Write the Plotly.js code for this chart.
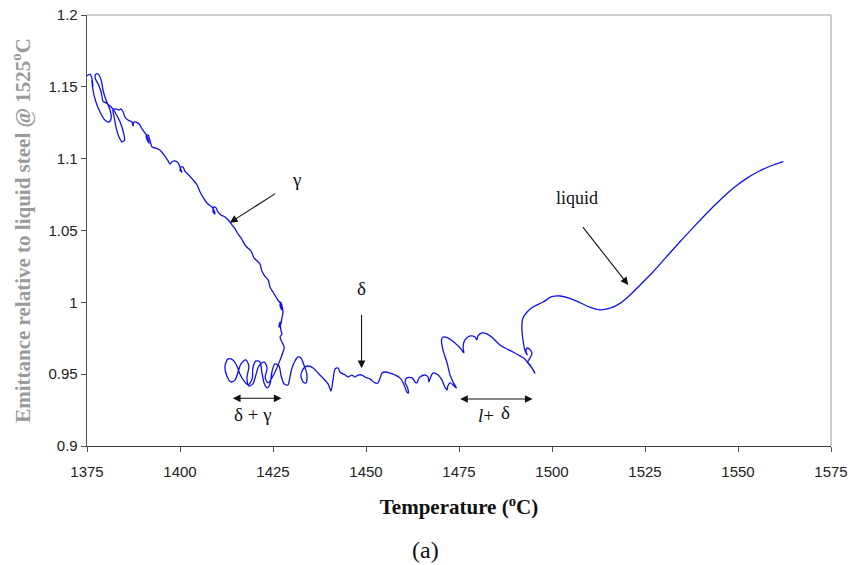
<!DOCTYPE html>
<html>
<head>
<meta charset="utf-8">
<script src="https://cdn.plot.ly/plotly-3.0.1.min.js"></script>
<style>html,body{margin:0;padding:0;background:#fff;}#chart{width:850px;height:565px;}</style>
</head>
<body>
<div id="chart"></div>
<script>
// Temperature (°C) along the measured trace (heating path, non-monotonic because of noise loops)
var temperature = [
 1374.9,1375.8,1376.3,1376.6,1376.3,1376.6,1377.4,1378.5,1379.8,1380.9,1381.5,1381.2,1380.1,1379.3,1378.8,1378.0,1377.4,1377.2,1378.0,1378.8,
 1379.3,1380.1,1381.5,1382.5,1383.9,1384.9,1385.1,1384.4,1383.6,1382.8,1382.3,1382.0,1382.8,1383.6,1384.1,1384.7,1385.2,1386.0,1387.1,1387.4,
 1387.6,1388.2,1389.0,1389.8,1390.6,1391.1,1391.7,1391.1,1390.9,1391.4,1391.9,1392.5,1393.5,1394.6,1395.7,1396.8,1397.3,1397.8,1398.7,1399.5,
 1400.3,1400.5,1400.0,1400.3,1400.8,1401.3,1402.1,1403.5,1404.6,1405.4,1406.5,1407.5,1408.6,1409.1,1409.4,1408.9,1409.1,1409.7,1410.2,1411.0,
 1412.1,1413.2,1414.0,1414.8,1415.6,1416.4,1417.7,1419.1,1419.9,1421.0,1421.5,1422.0,1422.8,1423.7,1424.2,1425.5,1426.3,1427.1,1427.4,1426.9,
 1427.1,1427.7,1427.4,1427.1,1426.6,1426.9,1427.1,1427.4,1426.9,1427.4,1428.0,1427.7,
 1426.9,1425.8,1424.7,1423.7,1422.9,1423.4,1422.6,1421.2,1420.4,1419.6,1418.5,1418.0,1418.5,1417.7,1416.4,1415.6,1414.8,1413.7,1412.6,1412.1,
 1412.9,1414.2,1415.3,1416.1,1417.2,1418.3,1419.4,1419.6,1420.4,1421.5,1422.0,1422.6,1423.4,1424.2,1424.7,1425.5,1426.6,1427.2,1428.0,1429.0,
 1429.6,1430.1,1430.9,1431.7,1432.5,1433.3,1434.1,1433.9,1433.1,1432.5,1433.3,1434.4,1435.8,1437.1,1438.4,1439.8,1440.6,1441.1,1441.7,1442.5,
 1443.0,1444.4,1445.2,1446.2,1447.0,1447.9,1448.9,1449.7,1451.1,1452.4,1453.2,1453.8,1454.3,1455.1,1456.5,1457.8,1459.1,1460.0,1461.0,1461.4,
 1461.2,1460.5,1461.0,1462.4,1463.2,1463.7,1464.0,1464.5,1465.9,1466.7,1466.9,1467.5,1468.0,1469.4,1470.4,1471.2,1471.8,1472.0,1472.6,1473.4,
 1474.3,1473.4,1472.6,1471.8,1470.7,1470.3,1470.7,1472.0,1473.9,1475.3,1476.3,1476.1,1476.6,1478.0,1479.3,1479.8,1480.1,1481.2,1482.5,1484.1,
 1486.0,1487.9,1489.5,1491.4,1492.7,1493.5,1494.6,1495.4,1494.9,1494.1,1493.5,1494.1,1494.6,1493.5,1493.0,1493.3,1492.7,1492.2,1491.9,1492.2,
 1493.3,1494.9,1497.6,1499.9,1502.2,1504.8,1507.5,1510.2,1512.9,1515.6,1518.3,1521.0,1523.7,1527.2,1530.8,1534.4,1538.0,1541.6,1545.2,1548.7,
 1552.3,1555.9,1559.5,1562.2
];
// Emittance relative to liquid steel @ 1525 °C
var emittance = [
 1.1575,1.1589,1.1561,1.1499,1.1548,1.1478,1.1394,1.1325,1.1269,1.1255,1.1283,1.1339,1.1408,1.1478,1.1548,1.1589,1.1589,1.1561,1.1520,1.1464,
 1.1401,1.1388,1.1360,1.1325,1.1255,1.1172,1.1130,1.1116,1.1151,1.1220,1.1290,1.1339,1.1346,1.1339,1.1346,1.1325,1.1290,1.1269,1.1255,1.1227,
 1.1255,1.1255,1.1241,1.1207,1.1179,1.1158,1.1109,1.1137,1.1158,1.1165,1.1130,1.1081,1.1074,1.1060,1.1026,1.0984,1.0963,1.0977,1.0984,1.0970,
 1.0921,1.0907,1.0921,1.0942,1.0942,1.0914,1.0893,1.0852,1.0817,1.0768,1.0719,1.0685,1.0664,1.0643,1.0615,1.0629,1.0664,1.0657,1.0629,1.0608,
 1.0594,1.0566,1.0538,1.0511,1.0476,1.0448,1.0392,1.0357,1.0309,1.0281,1.0267,1.0218,1.0183,1.0156,1.0107,1.0051,1.0016,0.9989,0.9947,0.9975,
 1.0002,0.9933,0.9891,0.9849,0.9828,0.9863,0.9808,0.9780,0.9759,0.9724,0.9689,0.9654,
 0.9599,0.9529,0.9474,0.9439,0.9474,0.9543,0.9585,0.9557,0.9494,0.9432,0.9418,0.9474,0.9557,0.9599,0.9571,0.9515,0.9460,0.9446,0.9487,0.9557,
 0.9606,0.9599,0.9557,0.9501,0.9453,0.9425,0.9467,0.9543,0.9592,0.9585,0.9515,0.9439,0.9404,0.9432,0.9515,0.9571,0.9557,0.9487,0.9432,0.9425,
 0.9487,0.9543,0.9592,0.9620,0.9613,0.9564,0.9501,0.9439,0.9446,0.9494,0.9543,0.9557,0.9543,0.9508,0.9474,0.9432,0.9383,0.9453,0.9536,0.9543,
 0.9515,0.9494,0.9480,0.9494,0.9480,0.9494,0.9494,0.9480,0.9467,0.9439,0.9439,0.9474,0.9508,0.9515,0.9508,0.9494,0.9474,0.9439,0.9376,0.9369,
 0.9404,0.9446,0.9474,0.9474,0.9446,0.9439,0.9460,0.9480,0.9494,0.9480,0.9446,0.9487,0.9508,0.9494,0.9460,0.9411,0.9390,0.9418,0.9439,0.9425,
 0.9404,0.9446,0.9494,0.9578,0.9668,0.9738,0.9759,0.9752,0.9717,0.9682,0.9648,0.9689,0.9738,0.9766,0.9759,0.9738,0.9766,0.9787,0.9780,0.9752,
 0.9703,0.9675,0.9654,0.9627,0.9606,0.9578,0.9543,0.9508,0.9529,0.9564,0.9585,0.9613,0.9648,0.9682,0.9668,0.9634,0.9668,0.9738,0.9828,0.9891,
 0.9933,0.9968,1.0002,1.0039,1.0044,1.0028,0.9998,0.9966,0.9947,0.9959,0.9993,1.0051,1.0121,1.0213,1.0318,1.0422,1.0522,1.0620,1.0712,1.0794,
 1.0863,1.0916,1.0956,1.0979
];

var xTickVals = [1375,1400,1425,1450,1475,1500,1525,1550,1575];
var yTickVals = [0.9,0.95,1.0,1.05,1.1,1.15,1.2];
var yTickText = ['0.9','0.95','1','1.05','1.1','1.15','1.2'];

var serif = 'Liberation Serif, Times New Roman, serif';
var sans = 'Liberation Sans, Arial, sans-serif';

var trace = {
  x: temperature, y: emittance, type: 'scatter', mode: 'lines',
  line: {color: '#1010f0', width: 1.3, shape: 'spline', smoothing: 0.8},
  hoverinfo: 'skip'
};

function label(x, y, text, size, extra) {
  var a = {xref:'x', yref:'y', x:x, y:y, text:text, showarrow:false,
    font:{family:serif, size:size, color:'#111'}};
  if (extra) for (var k in extra) a[k] = extra[k];
  return a;
}
function arrow(x, y, ax, ay, side) {
  return {xref:'x', yref:'y', axref:'x', ayref:'y', x:x, y:y, ax:ax, ay:ay, text:' ',
    showarrow:true, arrowhead:2, arrowsize:1.4, arrowwidth:1.1, arrowcolor:'#111',
    arrowside: side || 'end', standoff:0, startstandoff:0};
}

var layout = {
  width: 850, height: 565,
  margin: {l: 87, r: 19, t: 15, b: 119},
  paper_bgcolor: '#fff', plot_bgcolor: '#fff',
  showlegend: false,
  xaxis: {
    range: [1375, 1575], tickvals: xTickVals, ticks: 'outside', ticklen: 5, tickcolor: '#505050',
    showline: true, linecolor: '#404040', linewidth: 1.3, showgrid: false, zeroline: false,
    ticklabelstandoff: 7,
    tickfont: {family: sans, size: 15, color: '#222'},
    title: {text: '<b>Temperature (<sup>o</sup>C)</b>', font: {family: serif, size: 21, color: '#111'}, standoff: 20}
  },
  yaxis: {
    range: [0.9, 1.2], tickvals: yTickVals, ticktext: yTickText, ticks: 'outside', ticklen: 5, tickcolor: '#505050',
    showline: true, linecolor: '#505050', linewidth: 1.3, showgrid: false, zeroline: false,
    tickfont: {family: sans, size: 15, color: '#222'},
    title: {text: '<b>Emittance relative to liquid steel @ 1525<sup>o</sup>C</b>', font: {family: serif, size: 21, color: '#9a9a9a'}, standoff: 12}
  },
  shapes: [
    {type:'line', xref:'paper', yref:'paper', x0:0, x1:1, y0:1, y1:1, line:{color:'#9a9a9a', width:1}},
    {type:'line', xref:'paper', yref:'paper', x0:1, x1:1, y0:0, y1:1, line:{color:'#9a9a9a', width:1}}
  ],
  annotations: [
    arrow(1413.4, 1.0554, 1426.4, 1.0770),
    label(1431.4, 1.0852, 'γ', 19),
    arrow(1448.8, 0.9541, 1448.8, 0.9982),
    label(1448.8, 1.0093, 'δ', 19),
    arrow(1520.5, 1.0121, 1507.5, 1.0550),
    label(1506.6, 1.0724, 'liquid', 18),
    arrow(1427.3, 0.9332, 1413.4, 0.9332, 'end+start'),
    label(1419.6, 0.9216, 'δ + γ', 19),
    arrow(1494.8, 0.9327, 1474.5, 0.9327, 'end+start'),
    label(1482.3, 0.9209, '<i>l</i>+', 19),
    label(1487.6, 0.9230, 'δ', 19),
    {xref:'paper', yref:'paper', x:(425-87)/744, y:-(550-446)/431, xanchor:'center', yanchor:'middle', text:'(a)', showarrow:false,
     font:{family:serif, size:24, color:'#111'}}
  ]
};

Plotly.newPlot('chart', [trace], layout, {displayModeBar: false, staticPlot: true});
</script>
</body>
</html>
